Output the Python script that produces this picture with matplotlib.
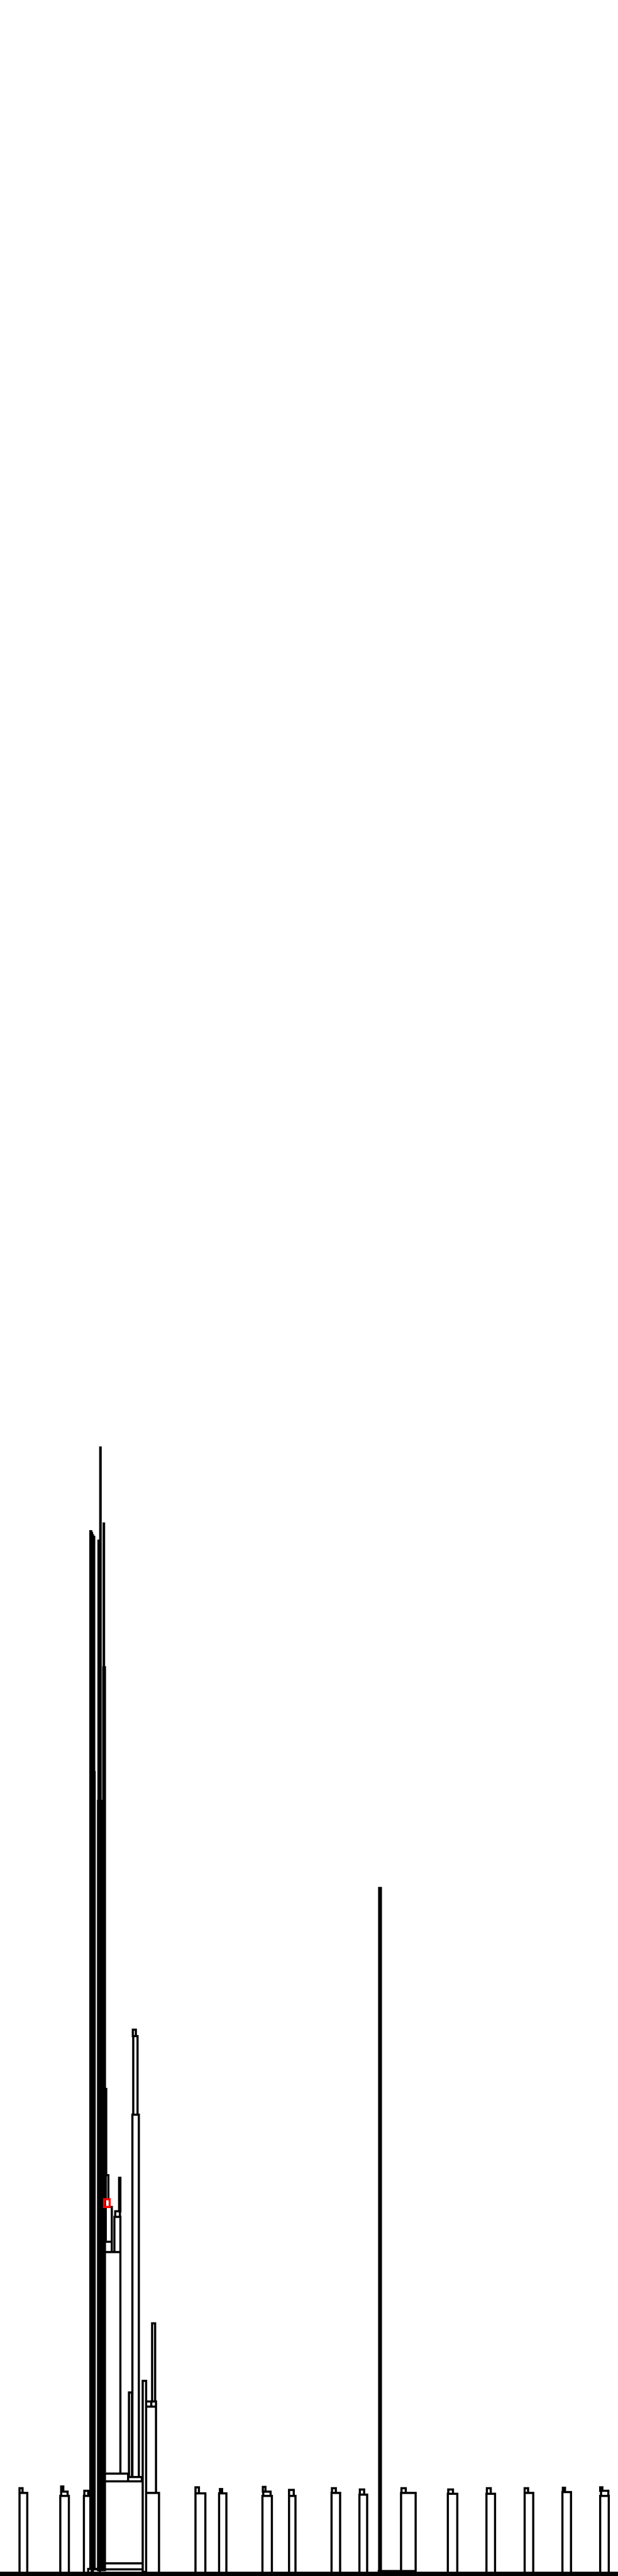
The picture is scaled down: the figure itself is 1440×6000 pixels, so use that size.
import matplotlib
matplotlib.use("Agg")
import matplotlib.pyplot as plt

# cluster tree: every cluster is a box spanning its members (left..right)
# from the level where it appears (lo) to the level where it splits/ends (hi)
left = [
    1,
    # chain of small clusters
    45, 45, 140, 142, 142, 195, 196, 455, 455, 510, 512, 611, 613, 612,
    673, 673, 772, 773, 837, 838, 882, 883, 934, 935, 1043, 1044, 1133, 1134,
    1222, 1222, 1310, 1311, 1398, 1400, 1398,
    # big cluster, left spikes
    205, 209.5, 212, 214.5, 217, 209.5, 212, 214, 216,
    227.5, 230, 232.5, 228.5, 233, 240, 241,
    # big cluster, body
    216, 230, 232, 243, 298, 300, 243, 243, 246, 246, 245, 266, 268, 277,
    308, 310, 309, 332, 340, 340, 340, 352, 354,
]
right = [
    1439,
    63, 52, 160, 157, 147, 213, 205, 478, 463, 527, 517, 633, 630, 618,
    688, 684, 792, 782, 855, 848, 968, 887, 968, 945, 1065, 1055, 1153, 1143,
    1242, 1230, 1330, 1316, 1418, 1417, 1403,
    232, 212, 214.5, 217, 219.5, 212, 214, 216, 219,
    230, 232.5, 234.5, 229.5, 234, 243.5, 242,
    332, 332, 332, 298, 330, 307, 280, 260, 260, 252, 247, 280, 279, 280,
    323, 320, 316, 340, 370, 363, 352, 363, 361,
]
lo = [
    3,
    8, 194, 8, 187, 197, 8, 187, 8, 193, 8, 193, 8, 187, 197,
    8, 187, 8, 194, 8, 190, 8, 12, 12, 194, 8, 192, 8, 192,
    8, 194, 8, 196, 8, 187, 199,
    8, 17, 17, 17, 17, 1873, 1873, 1873, 1873,
    14, 14, 14, 1806, 1806, 14, 2117,
    8, 16, 30, 221, 221, 231, 239, 755, 779, 878, 934, 755, 837, 850,
    231, 1075, 1258, 10, 8, 194, 395, 395, 407,
]
hi = [
    8,
    194, 205, 187, 197, 209, 187, 199, 193, 207, 193, 203, 187, 197, 208,
    187, 201, 194, 205, 190, 202, 12, 1603, 194, 205, 192, 202, 192, 205,
    194, 205, 196, 206, 187, 199, 207,
    17, 1873, 1873, 1873, 1873, 2434, 2430, 2425, 2421,
    1806, 1806, 1806, 2412, 2629, 2117, 2452,
    16, 30, 221, 239, 231, 428, 755, 779, 860, 934, 1135, 837, 850, 928,
    1075, 1258, 1273, 455, 194, 395, 407, 407, 589,
]

# the one highlighted cluster
sel_left, sel_right, sel_lo, sel_hi = 242, 255, 860, 878

fig = plt.figure(figsize=(14.4, 60), dpi=100)
ax = fig.add_axes([0, 0, 1, 1])

widths = [r - l for l, r in zip(left, right)]
heights = [h - b for b, h in zip(lo, hi)]
ax.bar(left, heights, width=widths, bottom=lo, align='edge',
       fill=False, edgecolor='black', linewidth=2.2, antialiased=False)
ax.bar([sel_left], [sel_hi - sel_lo], width=[sel_right - sel_left], bottom=[sel_lo],
       align='edge', fill=False, edgecolor='red', linewidth=2.2, antialiased=False)

ax.set_xlim(0, 1440)
ax.set_ylim(0, 6000)
ax.axis('off')

fig.savefig("out.png", dpi=100, facecolor='white')
